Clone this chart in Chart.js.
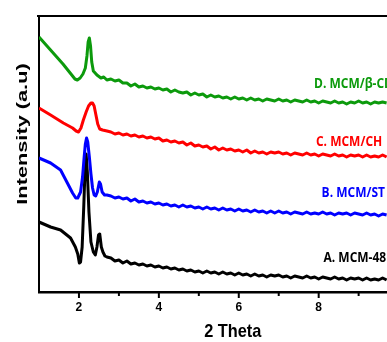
<!DOCTYPE html>
<html>
<head>
<meta charset="utf-8">
<script src="https://cdn.jsdelivr.net/npm/chart.js@4.4.0/dist/chart.umd.min.js"></script>
<style>
  html, body { margin: 0; padding: 0; background: #fff; }
  canvas { display: block; }
</style>
</head>
<body>
<canvas id="xrd" width="387" height="342"></canvas>
<script>
// x axis
const xTicks = [2, 3, 4, 5, 6, 7, 8, 9];
const xTickLabels = [2, 4, 6, 8];
const seriesNames = ['D. MCM/β-CD', 'C. MCM/CH', 'B. MCM/ST', 'A. MCM-48'];

// shared 2theta grid for the flat, noisy part of every pattern
const tailTheta = [2.8, 2.9, 3.0, 3.1, 3.2, 3.3, 3.4, 3.5, 3.6, 3.7,
  3.8, 3.9, 4.0, 4.1, 4.2, 4.3, 4.4, 4.5, 4.6, 4.7,
  4.8, 4.9, 5.0, 5.1, 5.2, 5.3, 5.4, 5.5, 5.6, 5.7,
  5.8, 5.9, 6.0, 6.1, 6.2, 6.3, 6.4, 6.5, 6.6, 6.7,
  6.8, 6.9, 7.0, 7.1, 7.2, 7.3, 7.4, 7.5, 7.6, 7.7,
  7.8, 7.9, 8.0, 8.1, 8.2, 8.3, 8.4, 8.5, 8.6, 8.7,
  8.8, 8.9, 9.0, 9.1, 9.2, 9.3, 9.4, 9.5, 9.6, 9.7];

// D. MCM/beta-CD (green)
const greenHeadTheta = [1.0, 1.2, 1.4, 1.6, 1.8, 1.9, 1.96, 2.03, 2.1, 2.16, 2.2, 2.23, 2.26, 2.29, 2.32, 2.36, 2.45, 2.55, 2.62, 2.7];
const greenHeadI = [255, 246, 237, 228, 218, 213, 212, 214, 218, 224, 236, 250, 254, 246, 230, 221, 217, 214, 215, 212];
const greenTailI = [213, 211, 212, 209, 209, 206, 208, 205, 206, 204,
  205, 203, 204, 202, 203, 200, 202, 200, 199, 200,
  197, 199, 197, 198, 195, 197, 195, 196, 194, 195,
  193, 195, 193, 194, 192, 194, 192, 193, 191, 193,
  192, 191, 193, 191, 192, 190, 192, 191, 190, 192,
  190, 191, 189, 191, 190, 189, 191, 189, 190, 188,
  190, 189, 191, 189, 190, 188, 190, 189, 190, 189];

// C. MCM/CH (red)
const redHeadTheta = [1.0, 1.29, 1.61, 1.84, 1.93, 1.99, 2.05, 2.11, 2.18, 2.24, 2.3, 2.34, 2.38, 2.42, 2.47, 2.52, 2.59, 2.7];
const redHeadI = [184, 177, 169, 164, 161, 160, 164, 172, 180, 186, 189, 189, 186, 178, 168, 163, 162, 161];
const redTailI = [160, 158, 159, 157, 158, 156, 157, 155, 156, 154,
  155, 153, 154, 151, 152, 150, 151, 149, 150, 147,
  149, 146, 147, 145, 146, 143, 145, 142, 144, 142,
  143, 141, 142, 140, 142, 139, 141, 139, 140, 138,
  140, 139, 140, 138, 139, 137, 139, 138, 137, 139,
  137, 138, 136, 138, 137, 136, 138, 136, 137, 135,
  137, 136, 137, 135, 137, 135, 136, 135, 137, 135];

// B. MCM/ST (blue)
const blueHeadTheta = [1.0, 1.29, 1.54, 1.71, 1.84, 1.92, 1.97, 2.04, 2.09, 2.13, 2.16, 2.19, 2.22, 2.26, 2.3, 2.34, 2.38, 2.42, 2.46, 2.51, 2.54, 2.58, 2.64, 2.7];
const blueHeadI = [134, 129, 122, 109, 99, 94, 94, 100, 115, 135, 148, 154, 150, 135, 118, 104, 97, 96, 100, 110, 108, 100, 97, 97];
const blueTailI = [96, 94, 95, 93, 94, 91, 93, 90, 91, 89,
  90, 88, 89, 87, 88, 86, 87, 85, 87, 85,
  86, 84, 85, 83, 85, 83, 84, 82, 84, 82,
  83, 81, 83, 81, 82, 80, 82, 80, 81, 79,
  81, 79, 81, 79, 80, 78, 80, 79, 78, 80,
  78, 79, 78, 80, 78, 79, 77, 79, 78, 79,
  77, 79, 78, 77, 79, 77, 78, 76, 78, 77];

// A. MCM-48 (black)
const blackHeadTheta = [1.0, 1.29, 1.54, 1.79, 1.91, 1.97, 2.01, 2.04, 2.08, 2.12, 2.15, 2.18, 2.21, 2.25, 2.3, 2.36, 2.41, 2.45, 2.49, 2.52, 2.56, 2.6, 2.65, 2.7];
const blackHeadI = [70, 65, 62, 54, 45, 38, 29, 30, 45, 85, 120, 138, 120, 80, 50, 40, 37, 45, 57, 58, 45, 40, 36, 35];
const blackTailI = [34, 31, 32, 29, 31, 28, 29, 27, 28, 26,
  27, 25, 26, 24, 25, 23, 24, 22, 23, 21,
  22, 20, 21, 19, 21, 19, 20, 18, 20, 18,
  19, 17, 19, 17, 18, 16, 18, 16, 17, 15,
  17, 16, 17, 15, 16, 14, 16, 15, 14, 16,
  14, 15, 13, 15, 14, 13, 15, 13, 14, 12,
  14, 13, 14, 12, 14, 12, 13, 12, 14, 12];

function toPoints(headTheta, headI, tailI) {
  const pts = headTheta.map((t, i) => ({ x: t, y: headI[i] }));
  tailTheta.forEach((t, i) => pts.push({ x: t, y: tailI[i] }));
  return pts;
}

const colors = ['#0c9a0c', '#ff0000', '#0000ff', '#000000'];

// series labels, frame and axis titles drawn on top of the chart
const decorations = {
  id: 'decorations',
  afterDraw(chart, args, opts) {
    const { ctx, chartArea, scales: { x, y } } = chart;
    ctx.save();

    // top frame line
    ctx.strokeStyle = '#000';
    ctx.lineWidth = 2;
    ctx.beginPath();
    ctx.moveTo(chartArea.left - 2, chartArea.top);
    ctx.lineTo(chartArea.right, chartArea.top);
    ctx.stroke();

    // tick marks under the x axis, long ones where there is a label
    xTicks.forEach(v => {
      const px = x.getPixelForValue(v);
      const len = xTickLabels.includes(v) ? 4 : 2;
      ctx.lineWidth = 2;
      ctx.beginPath();
      ctx.moveTo(px, chartArea.bottom);
      ctx.lineTo(px, chartArea.bottom + 2 + len);
      ctx.stroke();
    });

    // labels next to each pattern
    ctx.textAlign = 'right';
    ctx.textBaseline = 'middle';
    ctx.font = 'bold 15px "Open Sans"';
    opts.anchors.forEach((a, i) => {
      ctx.save();
      ctx.translate(x.getPixelForValue(a[0]), y.getPixelForValue(a[1]));
      ctx.scale(opts.labelSquash, 1);
      ctx.fillStyle = colors[i];
      ctx.fillText(seriesNames[i], 0, 0);
      ctx.restore();
    });

    // x title
    ctx.fillStyle = '#000';
    ctx.textAlign = 'center';
    ctx.font = 'bold 19px "Liberation Sans"';
    ctx.save();
    ctx.translate(x.getPixelForValue(5.85), chartArea.bottom + 40);
    ctx.scale(0.86, 1);
    ctx.fillText('2 Theta', 0, 0);
    ctx.restore();

    // y title
    ctx.font = 'bold 15px "Liberation Sans"';
    ctx.save();
    ctx.translate(chartArea.left - 16, y.getPixelForValue(158));
    ctx.rotate(-Math.PI / 2);
    ctx.scale(1.45, 1);
    ctx.fillText('Intensity (a.u)', 0, 0);
    ctx.restore();

    ctx.restore();
  }
};

const datasets = [
  toPoints(greenHeadTheta, greenHeadI, greenTailI),
  toPoints(redHeadTheta, redHeadI, redTailI),
  toPoints(blueHeadTheta, blueHeadI, blueTailI),
  toPoints(blackHeadTheta, blackHeadI, blackTailI)
].map((pts, i) => ({
  label: seriesNames[i],
  data: pts,
  borderColor: colors[i],
  borderWidth: 3,
  borderJoinStyle: 'round',
  pointRadius: 0,
  fill: false,
  tension: 0
}));

new Chart(document.getElementById('xrd'), {
  type: 'line',
  data: { datasets: datasets },
  plugins: [decorations],
  options: {
    responsive: false,
    animation: false,
    devicePixelRatio: 1,
    layout: { padding: { left: 39, top: 16, right: 0, bottom: 19.6 } },
    plugins: {
      legend: { display: false },
      tooltip: { enabled: false },
      decorations: {
        labelSquash: 0.8,
        anchors: [[9.86, 208], [9.59, 150], [9.66, 99.5], [9.69, 34.5]]
      }
    },
    scales: {
      x: {
        type: 'linear',
        min: 1,
        max: 9.71,
        afterBuildTicks: axis => { axis.ticks = xTicks.map(v => ({ value: v })); },
        grid: { display: false, drawTicks: false },
        border: { display: true, color: '#000', width: 2.5 },
        ticks: {
          padding: 8,
          color: '#000',
          font: { family: 'Liberation Sans', weight: 'bold', size: 12 },
          maxRotation: 0,
          autoSkip: false,
          callback: v => xTickLabels.includes(v) ? String(v) : ''
        }
      },
      y: {
        type: 'linear',
        min: 0,
        max: 276,
        grid: { display: false, drawTicks: false },
        border: { display: true, color: '#000', width: 2 },
        ticks: { display: false }
      }
    }
  }
});
</script>
</body>
</html>
